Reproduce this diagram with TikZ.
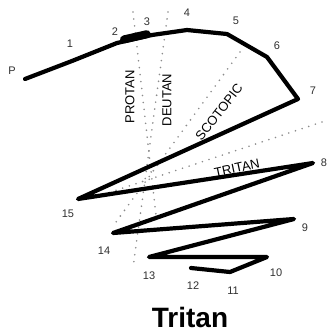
\documentclass[tikz,border=0pt]{standalone}
\usepackage{fontspec}
\setmainfont{Liberation Sans}
\usetikzlibrary{calc}
\definecolor{dotgray}{HTML}{8C8C8C}
\definecolor{numgray}{HTML}{303030}
\tikzset{
  % heavy score line through the caps
  score/.style = {line width=4.2pt, black, line join=round, line cap=round},
  axis/.style  = {dotgray, line width=1.8pt, line cap=round, dash pattern=on 0pt off 7pt},
  num/.style   = {font=\fontsize{11}{11}\selectfont, text=numgray, inner sep=0pt},
  axlbl/.style = {font=\fontsize{13}{13}\selectfont, text=black, inner sep=0pt},
}
\begin{document}
\begin{tikzpicture}[x=1pt,y=-1pt]
\useasboundingbox (0,0) rectangle (333,334);
% cap positions
\coordinate (cP)  at (25,79);
\coordinate (c1)  at (72,61);
\coordinate (c2)  at (117,43);
\coordinate (c3)  at (152,35);
\coordinate (c4)  at (187,30);
\coordinate (c5)  at (227,34);
\coordinate (c6)  at (267,57);
\coordinate (c7)  at (298,99);
\coordinate (c8)  at (313,163);
\coordinate (c9)  at (294,219);
\coordinate (c10) at (267,257);
\coordinate (c11) at (230,272);
\coordinate (c12) at (191,268);
\coordinate (c13) at (149,257);
\coordinate (c14) at (113,233);
\coordinate (c15) at (78,199);

% confusion axes
\coordinate (pa) at (133,12);  \coordinate (pb) at (156,215);
\coordinate (da) at (168,12);  \coordinate (db) at (133,268);
\coordinate (sa) at (240,52);  \coordinate (sb) at (116,222);
\coordinate (ta) at (322,122); \coordinate (tb) at (108,193);
\foreach \a/\b in {pa/pb,da/db,sa/sb,ta/tb} {\draw[axis] (\a) -- (\b);}
\node[axlbl, rotate=90]  (protan) at (130,97)  {PROTAN};
\node[axlbl, rotate=90]  (deutan) at (167,100) {DEUTAN};
\node[axlbl, rotate=52]  (scot)   at (219,112) {SCOTOPIC};
\node[axlbl, rotate=12]  (tritan) at (237,168) {TRITAN};

% score line
\draw[score] (cP) -- (c1) -- (c2) -- (c3) -- (c4) -- (c5) -- (c6) -- (c7)
  -- (c15) -- (c8) -- (c14) -- (c9) -- (c13) -- (c10) -- (c11) -- (c12);
\coordinate (b1) at ($(c2)!0.2!(c3)+(0,-2)$);
\coordinate (b2) at ($(c2)!0.85!(c3)+(0,-2)$);
\draw[line width=8pt, line cap=round] (b1) -- (b2);

% cap numbers
\node[num] (nP)  at (12,71)   {P};
\node[num] (n1)  at (70,44)   {1};
\node[num] (n2)  at (115,32)  {2};
\node[num] (n3)  at (147,22)  {3};
\node[num] (n4)  at (187,13)  {4};
\node[num] (n5)  at (236,21)  {5};
\node[num] (n6)  at (277,46)  {6};
\node[num] (n7)  at (313,91)  {7};
\node[num] (n8)  at (324,163) {8};
\node[num] (n9)  at (305,228) {9};
\node[num] (n10) at (276,273) {10};
\node[num] (n11) at (233,291) {11};
\node[num] (n12) at (193,286) {12};
\node[num] (n13) at (149,276) {13};
\node[num] (n14) at (104,251) {14};
\node[num] (n15) at (68,214)  {15};

\node[font=\fontsize{28}{28}\selectfont\bfseries, inner sep=0pt] (title) at (190,317) {Tritan};
\end{tikzpicture}
\end{document}
